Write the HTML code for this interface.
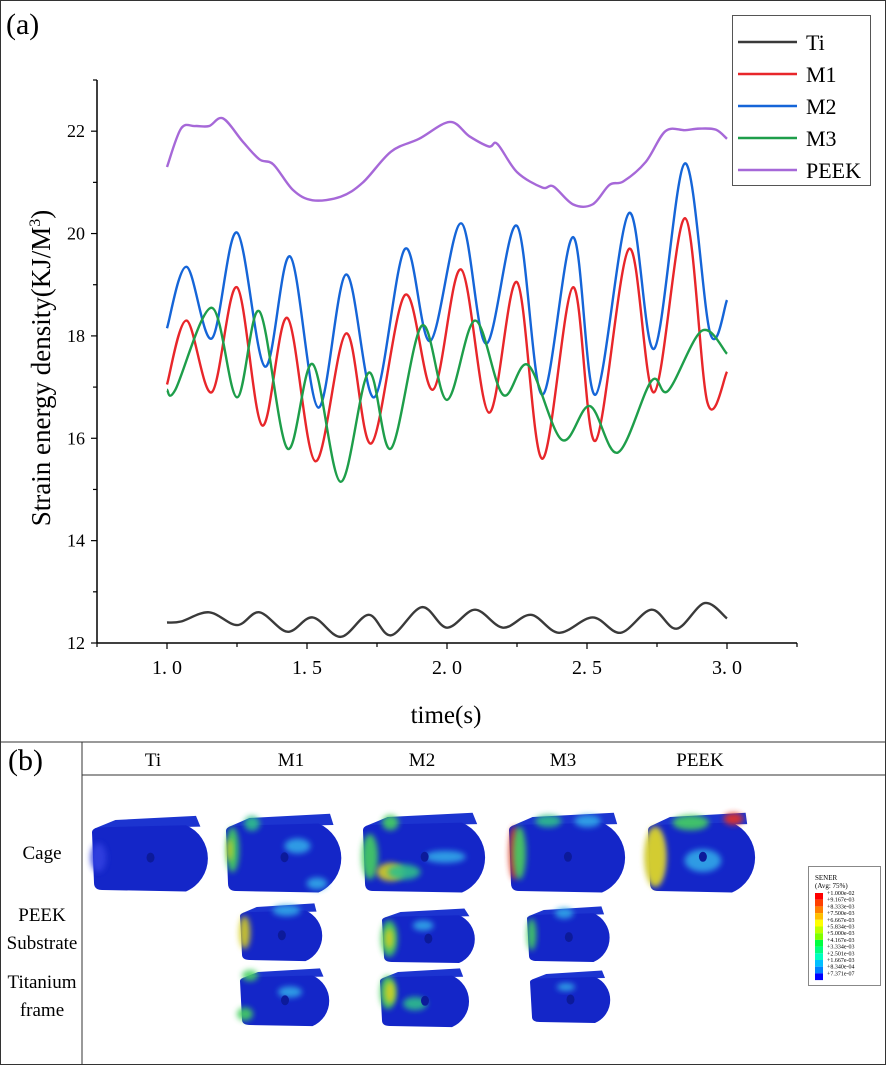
<!DOCTYPE html>
<html><head><meta charset="utf-8"><style>
html,body{margin:0;padding:0;background:#fff}
svg{display:block}
text{font-family:"Liberation Serif",serif}
</style></head><body>
<svg id="fig" width="886" height="1065" viewBox="0 0 886 1065" xmlns="http://www.w3.org/2000/svg">
<defs>
<filter id="blur" x="-50%" y="-50%" width="200%" height="200%"><feGaussianBlur stdDeviation="3"/></filter>
</defs>
<rect x="0.5" y="0.5" width="885" height="1064" fill="#fff" stroke="#333"/>
<line x1="0" y1="742" x2="886" y2="742" stroke="#333"/>
<text x="6" y="34" font-size="30">(a)</text>
<g id="axes"></g>
<g id="plot"></g>
<g>
<rect x="732.5" y="15.5" width="138" height="170" fill="#fff" stroke="#555"/>
<g id="legend"></g>
</g>
<text transform="translate(50,368) rotate(-90)" text-anchor="middle" font-size="27">Strain energy density(KJ/M<tspan font-size="16" dy="-10">3</tspan><tspan dy="10">)</tspan></text>
<text x="446" y="723" text-anchor="middle" font-size="25">time(s)</text>

<!-- panel b -->
<text x="8" y="770" font-size="30">(b)</text>
<line x1="82" y1="742" x2="82" y2="1065" stroke="#333"/>
<line x1="82" y1="775" x2="886" y2="775" stroke="#333"/>
<g font-size="19" text-anchor="middle">
<text x="153" y="766">Ti</text>
<text x="291" y="766">M1</text>
<text x="422" y="766">M2</text>
<text x="563" y="766">M3</text>
<text x="700" y="766">PEEK</text>
<text x="42" y="859">Cage</text>
<text x="42" y="921">PEEK</text>
<text x="42" y="949">Substrate</text>
<text x="42" y="988">Titanium</text>
<text x="42" y="1016">frame</text>
</g>
<g id="cages"></g>
<g>
<rect x="808.5" y="866.5" width="72" height="119" fill="#fff" stroke="#888"/>
<text x="815" y="880" font-size="7" font-family="Liberation Sans,sans-serif">SENER</text>
<text x="815" y="888" font-size="7" font-family="Liberation Sans,sans-serif">(Avg: 75%)</text>
<g id="cbar"></g>
</g>
</svg>
<script>
const NS="http://www.w3.org/2000/svg";
function mk(tag,attrs,parent){const e=document.createElementNS(NS,tag);for(const k in attrs)e.setAttribute(k,attrs[k]);parent.appendChild(e);return e;}

// ---- data ----
const yTicks=[12,14,16,18,20,22];
const xTicks=[1.0,1.5,2.0,2.5,3.0];
const xTickLabels=["1. 0","1. 5","2. 0","2. 5","3. 0"];
const seriesNames=["Ti","M1","M2","M3","PEEK"];
const seriesColors=["#3a3a3a","#e8262a","#1565d8","#1e9e4a","#a668d8"];
const tiT=[1.0,1.05,1.15,1.25,1.33,1.43,1.52,1.62,1.72,1.8,1.91,2.0,2.1,2.2,2.3,2.4,2.52,2.62,2.73,2.82,2.92,3.0];
const tiV=[12.4,12.42,12.6,12.35,12.6,12.22,12.5,12.12,12.55,12.15,12.7,12.3,12.65,12.3,12.55,12.2,12.5,12.2,12.65,12.28,12.78,12.48];
const m1T=[1.0,1.07,1.16,1.25,1.34,1.43,1.53,1.64,1.73,1.85,1.95,2.05,2.15,2.25,2.34,2.45,2.53,2.65,2.74,2.85,2.93,3.0];
const m1V=[17.05,18.3,16.9,18.95,16.25,18.35,15.55,18.05,15.9,18.8,16.95,19.3,16.5,19.05,15.6,18.95,15.95,19.7,16.9,20.3,16.7,17.3];
const m2T=[1.0,1.07,1.16,1.25,1.35,1.44,1.54,1.64,1.74,1.85,1.94,2.05,2.14,2.25,2.34,2.45,2.53,2.65,2.74,2.85,2.94,3.0];
const m2V=[18.15,19.35,17.95,20.02,17.4,19.55,16.6,19.2,16.8,19.7,17.9,20.2,17.85,20.15,16.85,19.93,16.85,20.4,17.75,21.37,18.05,18.7];
const m3T=[1.0,1.03,1.16,1.25,1.33,1.43,1.52,1.62,1.72,1.8,1.91,2.0,2.1,2.2,2.29,2.41,2.51,2.61,2.73,2.79,2.91,3.0];
const m3V=[16.95,16.95,18.55,16.8,18.48,15.8,17.45,15.15,17.28,15.8,18.2,16.75,18.3,16.85,17.43,15.97,16.63,15.72,17.12,16.93,18.1,17.65];
const peekT=[1.0,1.05,1.1,1.15,1.2,1.27,1.33,1.38,1.45,1.52,1.62,1.7,1.8,1.9,2.01,2.08,2.15,2.18,2.25,2.34,2.38,2.45,2.52,2.58,2.63,2.71,2.78,2.85,2.9,2.96,3.0];
const peekV=[21.3,22.05,22.1,22.1,22.25,21.8,21.45,21.35,20.85,20.65,20.72,21.0,21.6,21.85,22.18,21.9,21.7,21.75,21.2,20.9,20.92,20.57,20.57,20.95,21.02,21.4,22.0,22.02,22.05,22.03,21.85];
const seriesT=[tiT,m1T,m2T,m3T,peekT];
const seriesV=[tiV,m1V,m2V,m3V,peekV];

// ---- scales ----
const X0=97,X1=797,XMIN=0.75,XMAX=3.25;
const YB=643,YT=80,YMIN=12,YMAX=23;
const xs=v=>X0+(v-XMIN)/(XMAX-XMIN)*(X1-X0);
const ys=v=>YB-(v-YMIN)/(YMAX-YMIN)*(YB-YT);

const ax=document.getElementById('axes');
const yl=mk('line',{x1:X0,y1:YT,x2:X0,y2:YB,stroke:'#000','stroke-width':1.5},ax);


const xl=mk('line',{x1:X0,y1:YB,x2:X1,y2:YB,stroke:'#000','stroke-width':1.5},ax);


for(let v=YMIN;v<=YMAX;v++){
  const major=yTicks.includes(v);
  mk('line',{x1:X0-(major?6:4),y1:ys(v),x2:X0,y2:ys(v),stroke:'#000','stroke-width':1.2},ax);
}
yTicks.forEach(v=>{
  const t=mk('text',{x:X0-12,y:ys(v)+6,'text-anchor':'end','font-size':18},ax);
  t.textContent=v;
  
  
});
for(let v=XMIN;v<=XMAX+1e-9;v+=0.25){
  mk('line',{x1:xs(v),y1:YB,x2:xs(v),y2:YB+(Math.abs(v*2-Math.round(v*2))<1e-6?6:4),stroke:'#000','stroke-width':1.2},ax);
}
xTicks.forEach((v,i)=>{
  const t=mk('text',{x:xs(v),y:YB+31,'text-anchor':'middle','font-size':20,'font-family':'Liberation Mono, monospace'},ax);
  t.textContent=xTickLabels[i];
  
  
});

function smoothPath(T,V){
  const p=T.map((t,i)=>[xs(t),ys(V[i])]);
  let d=`M${p[0][0]},${p[0][1]}`;
  for(let i=0;i<p.length-1;i++){
    const p0=p[i-1]||p[i],p1=p[i],p2=p[i+1],p3=p[i+2]||p2;
    const c1=[p1[0]+(p2[0]-p0[0])/6,p1[1]+(p2[1]-p0[1])/6];
    const c2=[p2[0]-(p3[0]-p1[0])/6,p2[1]-(p3[1]-p1[1])/6];
    d+=`C${c1[0]},${c1[1]} ${c2[0]},${c2[1]} ${p2[0]},${p2[1]}`;
  }
  return d;
}
const plot=document.getElementById('plot');
const order=[4,0,1,2,3];
order.forEach(i=>{
  const path=mk('path',{d:smoothPath(seriesT[i],seriesV[i]),fill:'none',stroke:seriesColors[i],'stroke-width':2.4},plot);
  
  
});
const lg=document.getElementById('legend');
seriesNames.forEach((n,i)=>{
  const y=42+i*32;
  const l=mk('line',{x1:738,y1:y,x2:797,y2:y,stroke:seriesColors[i],'stroke-width':2.4},lg);
  
  
  const t=mk('text',{x:806,y:y+8,'font-size':22,'font-family':'Liberation Mono, monospace'},lg);
  t.textContent=n;
  
  
});

// ---- panel b cages ----
const cg=document.getElementById('cages');
function cage(x,y,w,h,blobs,name){
  const g=mk('g',{},cg);
  
  
  const r=h*0.5;
  mk('path',{d:`M${x+2},${y+h*0.15} L${x+w*0.18},${y+2} L${x+w*0.8},${y-h*0.03} L${x+w-r*0.6},${y+h*0.12} Z`,fill:'#1c34d0'},g);
  mk('path',{d:`M${x},${y+h*0.2} Q${x},${y+h*0.14} ${x+8},${y+h*0.13} L${x+w-r},${y+h*0.1} A${r} ${r*1.0} 0 0 1 ${x+w-r},${y+h*1.02} L${x+10},${y+h} Q${x+2},${y+h} ${x+2},${y+h*0.9} Z`,fill:'#1426c8'},g);
  blobs.forEach(b=>mk('ellipse',{cx:x+b[0]*w,cy:y+b[1]*h,rx:b[2]*w,ry:b[3]*h,fill:b[4],filter:'url(#blur)',opacity:0.9},g));
  mk('ellipse',{cx:x+w*0.45,cy:y+h*0.55,rx:4,ry:5,fill:'#0c1a9a'},g);
}
const g1='#2fbf8a',g2='#44d060',c1='#30a8e8',y1='#d8d020',r1='#e83020';
cage(92,818,130,72,[[0.05,0.55,0.06,0.2,'#3040e0']],'cage-ti');
cage(226,816,130,75,[[0.05,0.45,0.05,0.3,g2],[0.03,0.45,0.02,0.15,y1],[0.2,0.1,0.06,0.1,g1],[0.55,0.4,0.1,0.1,c1],[0.7,0.9,0.08,0.08,c1]],'cage-m1');
cage(363,815,137,76,[[0.05,0.55,0.06,0.3,g2],[0.2,0.75,0.1,0.12,y1],[0.3,0.75,0.12,0.1,g1],[0.6,0.55,0.15,0.08,c1],[0.2,0.1,0.06,0.1,g2]],'cage-m2');
cage(509,815,131,76,[[0.04,0.5,0.04,0.35,r1],[0.08,0.5,0.05,0.35,g2],[0.3,0.08,0.1,0.08,g1],[0.6,0.08,0.1,0.08,c1]],'cage-m3');
cage(648,815,122,76,[[0.06,0.55,0.07,0.35,'#c0c0c0'],[0.06,0.55,0.09,0.4,y1],[0.35,0.1,0.15,0.1,g2],[0.7,0.05,0.08,0.08,r1],[0.45,0.6,0.15,0.15,c1]],'cage-peek');
cage(240,905,93,55,[[0.05,0.5,0.06,0.3,y1],[0.5,0.1,0.15,0.1,c1]],'substrate-m1');
cage(382,910,103,52,[[0.07,0.55,0.08,0.35,g2],[0.07,0.55,0.04,0.2,y1],[0.4,0.3,0.1,0.1,c1]],'substrate-m2');
cage(527,908,93,53,[[0.05,0.5,0.05,0.3,g2],[0.4,0.1,0.1,0.1,c1]],'substrate-m3');
cage(240,970,100,55,[[0.1,0.1,0.08,0.1,g2],[0.05,0.8,0.08,0.12,g2],[0.5,0.4,0.12,0.1,c1]],'frame-m1');
cage(380,970,100,56,[[0.08,0.4,0.08,0.3,g2],[0.1,0.4,0.05,0.2,y1],[0.35,0.6,0.12,0.12,g1]],'frame-m2');
cage(530,972,90,50,[[0.4,0.3,0.1,0.08,c1]],'frame-m3');

// colorbar
const cbColors=['#ff0000','#ff4000','#ff8000','#ffbf00','#ffff00','#bfff00','#80ff00','#00ff40','#00ff80','#00ffbf','#00bfff','#0080ff','#0000ff'];
const cbLabels=['+1.000e-02','+9.167e-03','+8.333e-03','+7.500e-03','+6.667e-03','+5.834e-03','+5.000e-03','+4.167e-03','+3.334e-03','+2.501e-03','+1.667e-03','+8.340e-04','+7.371e-07'];
const cb=document.getElementById('cbar');
cbColors.forEach((c,i)=>{
  const r=mk('rect',{x:815,y:893+i*6.7,width:8,height:6.7,fill:c},cb);
  
  
});
cbLabels.forEach((s,i)=>{
  const t=mk('text',{x:827,y:895+i*6.7,'font-size':6,'font-family':'Liberation Sans,sans-serif'},cb);
  t.textContent=s;
  
  
});
</script>
</body></html>
